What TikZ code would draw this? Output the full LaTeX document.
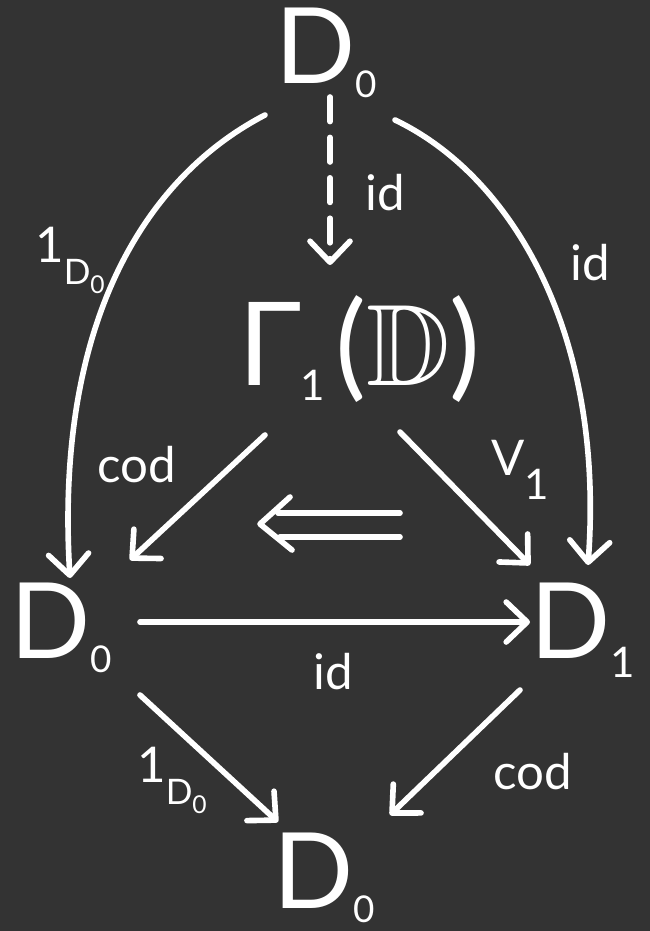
\documentclass[tikz,border=0pt]{standalone}
\usepackage{amssymb}
\usepackage{fontspec}
\setmainfont{Lato}
\usetikzlibrary{arrows.meta,calc}
\definecolor{bg}{HTML}{333333}
\newcommand\mysubA[1]{\kern0pt\raisebox{-8pt}{\fontsize{21}{21}\selectfont #1}}
\newcommand\mysubB[1]{\kern0pt\raisebox{-11pt}{\fontsize{24}{24}\selectfont #1}}
\newcommand\labone{1\raisebox{-0.45em}{\fontsize{20}{20}\selectfont D\raisebox{-0.25em}{\fontsize{14}{14}\selectfont 0}}}
\begin{document}
\begin{tikzpicture}[x=0.02cm,y=-0.02cm,
  obj/.style={text=white,inner sep=0pt,anchor=base west,font=\fontsize{60}{60}\selectfont},
  lab/.style={text=white,inner sep=0pt,font=\fontsize{28}{28}\selectfont},
  stroke/.style={white,line width=3.2pt,line cap=round,line join=round},
  arr/.style={stroke,-{Straight Barb[length=0.42cm,width=0.8cm,round,line width=3.2pt]}},
]
\fill[bg] (0,0) rectangle (650,931);
\useasboundingbox (0,0) rectangle (650,931);

% objects
\node[obj] (T) at (275,83) {D\mysubA{0}};
\node[obj,font=\fontsize{66}{66}\selectfont] (G) at (238,385) {Γ\kern-1pt\raisebox{-9pt}{\fontsize{24}{24}\selectfont 1}\kern6pt($\mathbb{D}$)};
\node[obj] (L) at (10,658) {D\mysubA{0}};
\node[obj] (R) at (530,658) {D\mysubB{1}};
\node[obj] (B) at (273,908) {D\mysubA{0}};

% arrows
\draw[arr,dash pattern=on 14pt off 9pt] ($(T.base west)+(55,14)$) -- ($(G.base west)+(92,-120)$);
\draw[arr] ($(T.base west)+(-10,32)$) .. controls +(-125,65) and +(-15,-248) .. ($(L.base west)+(60,-80)$);
\draw[arr] ($(T.base west)+(120,37)$) .. controls +(115,55) and +(17,-235) .. ($(R.base west)+(58,-93)$);
\draw[arr] ($(G.base west)+(27,50)$) -- ($(L.base west)+(120,-98)$);
\draw[arr] ($(G.base west)+(162,47)$) -- ($(R.base west)+(0,-93)$);
\draw[arr] ($(L.base west)+(130,-36)$) -- ($(R.base west)+(0,-36)$);
\draw[arr] ($(L.base west)+(130,37)$) -- ($(B.base west)+(5,-86)$);
\draw[arr] ($(R.base west)+(-10,32)$) -- ($(B.base west)+(117,-93)$);

% 2-cell
\coordinate (c2) at (330,525);
\draw[stroke] ($(c2)+(-52,-12)$) -- ($(c2)+(70,-12)$);
\draw[stroke] ($(c2)+(-50,12)$) -- ($(c2)+(70,12)$);
\draw[stroke] ($(c2)+(-40,-28)$) -- ($(c2)+(-70,-1)$) -- ($(c2)+(-38,25)$);

% labels
\node[lab] (l1) at (385,193) {id};
\node[lab] (l2) at (70,260) {\labone};
\node[lab] (l3) at (590,263) {id};
\node[lab] (l4) at (137,465) {cod};
\node[lab] (l5) at (520,470) {V\raisebox{-0.5em}{\fontsize{24}{24}\selectfont 1}};
\node[lab] (l6) at (333,672) {id};
\node[lab] (l7) at (172,780) {\labone};
\node[lab] (l8) at (533,772) {cod};
\end{tikzpicture}
\end{document}
